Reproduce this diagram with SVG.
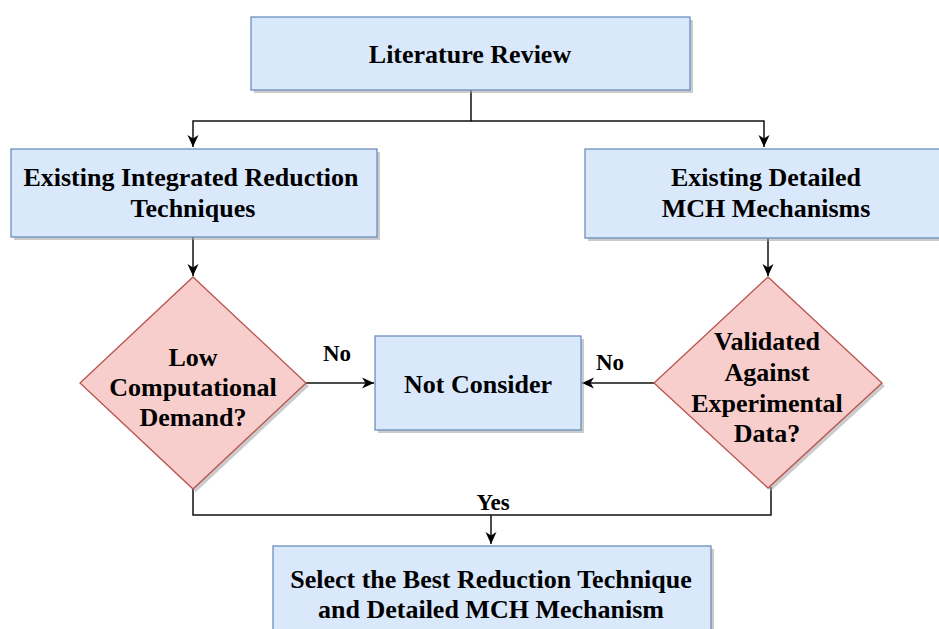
<svg xmlns="http://www.w3.org/2000/svg" width="939" height="629" viewBox="0 0 939 629">
<defs>
<marker id="arr" markerUnits="userSpaceOnUse" markerWidth="14" markerHeight="12" refX="12" refY="6" orient="auto">
<path d="M0,0.5 L12,6 L0,11.5 L3.5,6 z" fill="#000"/>
</marker>
</defs>
<style>
.box{fill:#dae8fc;stroke:#6c8ebf;stroke-width:1.3}
.dia{fill:#f8cecc;stroke:#b85450;stroke-width:1.3}
.sh{fill:#a0a0a0;opacity:0.55}
.t{font-family:"Liberation Serif","Times New Roman",serif;font-weight:bold;font-size:26px;fill:#000;text-anchor:middle}
.lbl{font-family:"Liberation Serif","Times New Roman",serif;font-weight:bold;font-size:23px;fill:#000;text-anchor:middle}
.c{fill:none;stroke:#111;stroke-width:1.5}
</style>
<rect width="939" height="629" fill="#fff"/>

<g id="connectors">
<path class="c" d="M471,90 V121 H193 V147" marker-end="url(#arr)"/>
<path class="c" d="M471,121 H764 V147" marker-end="url(#arr)"/>
<path class="c" d="M193,237 V276" marker-end="url(#arr)"/>
<path class="c" d="M768,238 V276" marker-end="url(#arr)"/>
<path class="c" d="M306,383 H374" marker-end="url(#arr)"/>
<path class="c" d="M654,383 H582" marker-end="url(#arr)"/>
<path class="c" d="M193,489 V515 H771 V487"/>
<path class="c" d="M491,515 V544" marker-end="url(#arr)"/>
<text class="lbl" x="337" y="361">No</text>
<text class="lbl" x="610" y="370">No</text>
<text class="lbl" x="493" y="510">Yes</text>
</g>

<g id="literature-review">
<rect class="sh" x="254" y="20" width="439" height="73"/>
<rect class="box" x="251" y="17" width="439" height="73"/>
<text class="t" x="470" y="63">Literature Review</text>
</g>

<g id="integrated-reduction">
<rect class="sh" x="14" y="152" width="366" height="88"/>
<rect class="box" x="11" y="149" width="366" height="88"/>
<text class="t" x="191" y="186">Existing Integrated Reduction</text>
<text class="t" x="193" y="217">Techniques</text>
</g>

<g id="detailed-mechanisms">
<rect class="sh" x="588" y="152" width="366" height="89"/>
<rect class="box" x="585" y="149" width="366" height="89"/>
<text class="t" x="766" y="186">Existing Detailed</text>
<text class="t" x="766" y="217">MCH Mechanisms</text>
</g>

<g id="low-demand">
<polygon class="sh" points="196,280 309,386 196,492 83,386"/>
<polygon class="dia" points="193,277 306,383 193,489 80,383"/>
<text class="t" x="193" y="366">Low</text>
<text class="t" x="193" y="396">Computational</text>
<text class="t" x="193" y="426">Demand?</text>
</g>

<g id="validated">
<polygon class="sh" points="771,280 885,386 771,491 657,386"/>
<polygon class="dia" points="768,277 882,383 768,488 654,383"/>
<text class="t" x="767" y="350">Validated</text>
<text class="t" x="767" y="381">Against</text>
<text class="t" x="767" y="412">Experimental</text>
<text class="t" x="767" y="442">Data?</text>
</g>

<g id="not-consider">
<rect class="sh" x="378" y="339" width="206" height="94"/>
<rect class="box" x="375" y="336" width="206" height="94"/>
<text class="t" x="478" y="393">Not Consider</text>
</g>

<g id="select-best">
<rect class="sh" x="276" y="549" width="438" height="100"/>
<rect class="box" x="273" y="546" width="438" height="100"/>
<text class="t" x="491" y="588">Select the Best Reduction Technique</text>
<text class="t" x="491" y="618">and Detailed MCH Mechanism</text>
</g>
</svg>
